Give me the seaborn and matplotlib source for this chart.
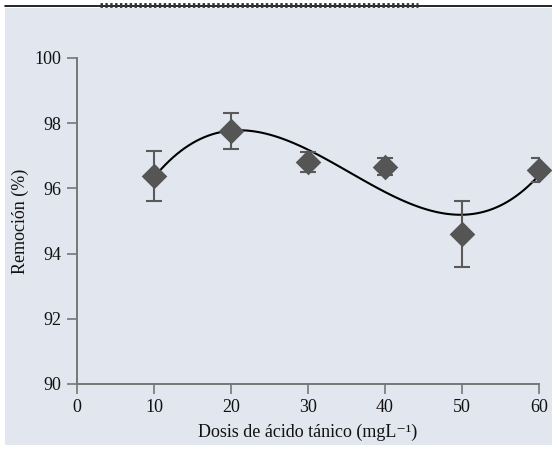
import numpy as np
import pandas as pd
import matplotlib
matplotlib.use('Agg')
import matplotlib.pyplot as plt
import seaborn as sns
from matplotlib.patches import Rectangle
from matplotlib.lines import Line2D

# Data
dosis = [10, 20, 30, 40, 50, 60]
remocion = [96.38, 97.76, 96.81, 96.67, 94.60, 96.56]
error = [0.76, 0.55, 0.32, 0.25, 1.00, 0.37]

df = pd.DataFrame({'Dosis': dosis, 'Remocion': remocion, 'Error': error})

sns.set_style('ticks')
plt.rcParams['font.family'] = ['Liberation Serif', 'DejaVu Serif']

bg = '#E2E6EF'
fig = plt.figure(figsize=(5.52, 4.53), dpi=100, facecolor='white')

# shaded panel and top rule
fig.add_artist(Rectangle((5 / 552, 1 - 445 / 453), 547 / 552, 437 / 453,
                         transform=fig.transFigure, facecolor=bg, edgecolor='none', zorder=-10))
fig.add_artist(Line2D([5 / 552, 1.0], [1 - 6 / 453, 1 - 6 / 453], transform=fig.transFigure,
                      color='black', lw=1.2))
fig.add_artist(Line2D([100 / 552, 418 / 552], [1 - 5 / 453, 1 - 5 / 453], transform=fig.transFigure,
                      color='#333333', lw=3.5, ls=(0, (0.5, 0.5))))

ax = fig.add_axes([77 / 552, 1 - 384 / 453, (539 - 77) / 552, (384 - 58) / 453])
ax.set_facecolor('none')

# fitted cubic trend
sns.regplot(data=df, x='Dosis', y='Remocion', order=3, ci=None, scatter=False,
            truncate=True, line_kws={'color': 'black', 'lw': 1.5}, ax=ax)

ax.errorbar(df['Dosis'], df['Remocion'], yerr=df['Error'], fmt='none',
            ecolor='#5a5a5a', elinewidth=1.5, capsize=6, capthick=1.5, zorder=3)
sns.scatterplot(data=df, x='Dosis', y='Remocion', marker='D', s=170, color='#555555',
                edgecolor='#555555', linewidth=0, ax=ax, zorder=4, clip_on=False)

ax.set_xlim(0, 60)
ax.set_ylim(90, 100)
ax.set_xticks([0, 10, 20, 30, 40, 50, 60])
ax.set_yticks([90, 92, 94, 96, 98, 100])
ax.set_xlabel('Dosis de ácido tánico (mgL⁻¹)', fontsize=13, color='#111111', labelpad=5)
ax.set_ylabel('Remoción (%)', fontsize=13, color='#111111', labelpad=4)
ax.tick_params(axis='both', labelsize=13, length=7, width=1.2, color='#777777',
               labelcolor='#111111', pad=4)
sns.despine(ax=ax)
for s in ['left', 'bottom']:
    ax.spines[s].set_color('#777777')
    ax.spines[s].set_linewidth(1.4)

fig.savefig('out.png', dpi=100, facecolor='white')
